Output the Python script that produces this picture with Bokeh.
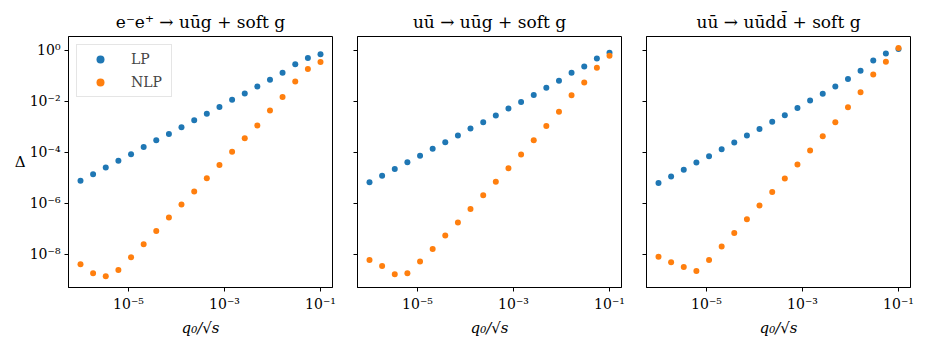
from bokeh.plotting import figure
from bokeh.models import Range1d, FixedTicker, Legend, LegendItem
from bokeh.layouts import row
from bokeh.embed import file_html
from bokeh.resources import INLINE

# x values: q0/sqrt(s)
q = [1.0e-6, 1.83e-6, 3.36e-6, 6.16e-6, 1.13e-5, 2.07e-5, 3.79e-5, 6.95e-5,
     1.27e-4, 2.34e-4, 4.28e-4, 7.85e-4, 1.44e-3, 2.64e-3, 4.83e-3, 8.86e-3,
     1.62e-2, 2.98e-2, 5.46e-2, 1.0e-1]

titles = ["e⁻e⁺ → uūg + soft g", "uū → uūg + soft g", "uū → uūdd̄ + soft g"]

lp1 = [7.6e-6, 1.38e-5, 2.5e-5, 4.6e-5, 8.3e-5, 1.58e-4, 2.9e-4, 5.2e-4, 9.5e-4, 1.78e-3,
       3.2e-3, 5.9e-3, 1.12e-2, 2.0e-2, 3.7e-2, 6.9e-2, 0.129, 0.275, 0.49, 0.69]
nlp1 = [4.1e-9, 1.82e-9, 1.38e-9, 2.45e-9, 7.6e-9, 2.45e-8, 8.1e-8, 2.75e-7, 8.9e-7, 2.9e-6,
        9.5e-6, 3.16e-5, 1.05e-4, 3.5e-4, 1.12e-3, 4.3e-3, 1.45e-2, 5.9e-2, 0.182, 0.34]
lp2 = [6.6e-6, 1.2e-5, 2.2e-5, 4.0e-5, 7.2e-5, 1.35e-4, 2.45e-4, 4.5e-4, 8.5e-4, 1.48e-3,
       2.7e-3, 5.1e-3, 9.3e-3, 1.74e-2, 3.3e-2, 6.2e-2, 0.129, 0.229, 0.468, 0.776]
nlp2 = [6.0e-9, 3.5e-9, 1.66e-9, 1.82e-9, 5.2e-9, 1.62e-8, 5.4e-8, 1.78e-7, 5.9e-7, 2.04e-6,
        6.9e-6, 2.34e-5, 8.1e-5, 2.95e-4, 1.05e-3, 3.8e-3, 1.7e-2, 5.4e-2, 0.204, 0.60]
lp3 = [6.2e-6, 1.12e-5, 2.04e-5, 3.9e-5, 6.9e-5, 1.29e-4, 2.4e-4, 4.5e-4, 8.1e-4, 1.55e-3,
       2.8e-3, 5.4e-3, 1.05e-2, 1.95e-2, 3.7e-2, 7.4e-2, 0.155, 0.389, 0.724, 1.10]
nlp3 = [8.1e-9, 4.9e-9, 3.16e-9, 2.2e-9, 6.0e-9, 2.0e-8, 6.9e-8, 2.34e-7, 8.1e-7, 2.75e-6,
        9.3e-6, 3.3e-5, 1.17e-4, 4.2e-4, 1.48e-3, 5.8e-3, 2.2e-2, 0.11, 0.347, 1.20]

x_ticks = [1e-5, 1e-3, 1e-1]
x_tick_labels = ["10⁻⁵", "10⁻³", "10⁻¹"]
y_ticks = [1e0, 1e-2, 1e-4, 1e-6, 1e-8]
y_tick_labels = ["10⁰", "10⁻²", "10⁻⁴", "10⁻⁶", "10⁻⁸"]

series_lp = [lp1, lp2, lp3]
series_nlp = [nlp1, nlp2, nlp3]

FONT = "DejaVu Serif"
BLUE = "#1f77b4"
ORANGE = "#ff7f0e"

figs = []
for i in range(3):
    p = figure(x_axis_type="log", y_axis_type="log",
               frame_width=264, frame_height=251,
               x_range=Range1d(10 ** -6.25, 10 ** -0.75),
               y_range=Range1d(10 ** -9.3, 10 ** 0.53),
               output_backend="svg", toolbar_location=None,
               min_border_left=68 if i == 0 else 20,
               min_border_right=5,
               min_border_top=36, min_border_bottom=45)
    p.title.text = titles[i]
    p.title.align = "center"
    p.title.text_font = FONT
    p.title.text_font_size = "17px"
    p.title.text_font_style = "normal"
    p.title.text_color = "black"
    p.xgrid.visible = False
    p.ygrid.visible = False
    p.outline_line_color = "black"
    p.outline_line_width = 1
    p.background_fill_color = "white"
    p.border_fill_color = "white"

    for ax in (p.xaxis[0], p.yaxis[0]):
        ax.axis_line_color = "black"
        ax.major_tick_line_color = "black"
        ax.major_tick_out = 4
        ax.major_tick_in = 0
        ax.minor_tick_line_color = None
        ax.major_label_text_font = FONT
        ax.major_label_text_font_size = "14px"
        ax.major_label_text_color = "black"
        ax.axis_label_text_font = FONT
        ax.axis_label_text_color = "black"

    p.xaxis.ticker = FixedTicker(ticks=x_ticks, minor_ticks=[])
    p.xaxis.major_label_overrides = dict(zip(x_ticks, x_tick_labels))
    p.xaxis.axis_label = "q₀/√s"
    p.xaxis.axis_label_text_font_style = "italic"
    p.xaxis.axis_label_text_font_size = "15px"
    p.xaxis.axis_label_standoff = 4
    p.xaxis.major_label_standoff = 4

    p.yaxis.ticker = FixedTicker(ticks=y_ticks, minor_ticks=[])
    if i == 0:
        p.yaxis.major_label_overrides = dict(zip(y_ticks, y_tick_labels))
        p.yaxis.major_label_standoff = 4
        p.yaxis.axis_label = "Δ"
        p.yaxis.axis_label_orientation = "horizontal"
        p.yaxis.axis_label_text_font_style = "normal"
        p.yaxis.axis_label_text_font_size = "15px"
        p.yaxis.axis_label_standoff = 1
    else:
        p.yaxis.major_label_overrides = {t: " " for t in y_ticks}
        p.yaxis.major_label_standoff = 0

    r1 = p.scatter(q, series_lp[i], size=6, color=BLUE, line_color=None)
    r2 = p.scatter(q, series_nlp[i], size=6, color=ORANGE, line_color=None)

    if i == 0:
        legend = Legend(items=[LegendItem(label="LP", renderers=[r1]),
                               LegendItem(label="NLP", renderers=[r2])],
                        location="top_left", margin=8, padding=4, spacing=3,
                        glyph_width=38, glyph_height=20, label_height=20,
                        label_width=36, label_standoff=12,
                        label_text_font=FONT, label_text_font_size="14px",
                        border_line_color="#cccccc", border_line_width=1,
                        background_fill_alpha=0.8)
        p.add_layout(legend)
    figs.append(p)

layout = row(*figs)
open("out.html", "w").write(file_html(layout, INLINE))
